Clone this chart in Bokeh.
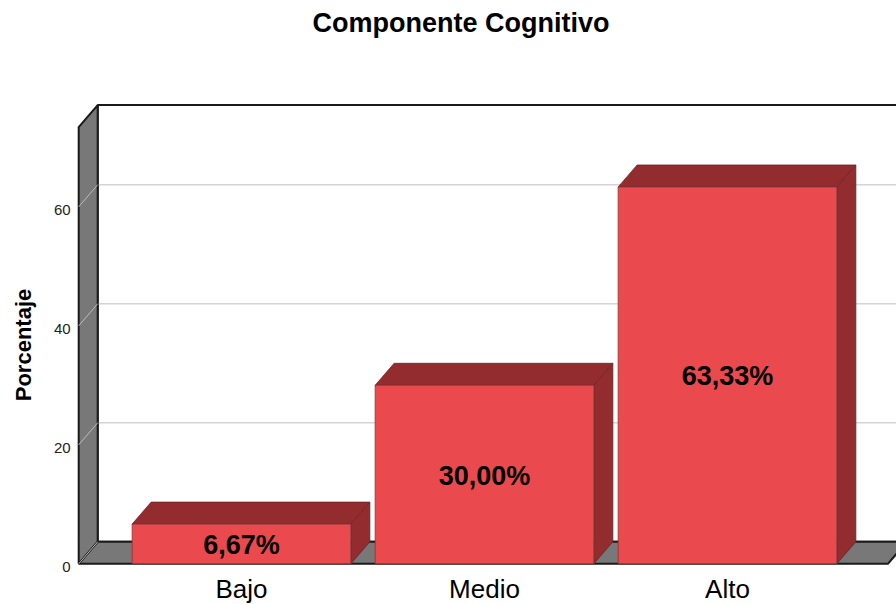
import math
from bokeh.plotting import figure
from bokeh.models import Range1d, ColumnDataSource
from bokeh.core.properties import value
from bokeh.embed import file_html
from bokeh.resources import INLINE

# ---- data ----
title_text = "Componente Cognitivo"
y_label = "Porcentaje"
categories = ["Bajo", "Medio", "Alto"]
percentages = [6.67, 30.00, 63.33]
y_ticks = [0, 20, 40, 60]

# ---- layout constants (pixels inside the figure) ----
W, H = 896, 604
X0_PX, STEP_PX = 241.0, 243.0      # x pixel of first category, pixels per category
Y0_PX, UNIT_PX = 563.3, 5.95       # y pixel (from top) of value 0, pixels per unit
DEPTH_X_PX, DEPTH_Y_PX = 19.0, 22.0

x_start = (0 - X0_PX) / STEP_PX
x_end = (W - X0_PX) / STEP_PX
y_end = Y0_PX / UNIT_PX
y_start = (Y0_PX - H) / UNIT_PX

def px2x(px):
    return (px - X0_PX) / STEP_PX

def px2y(py):
    return (Y0_PX - py) / UNIT_PX

DX = DEPTH_X_PX / STEP_PX
DY = DEPTH_Y_PX / UNIT_PX
BAR_W = 0.9
XL, XR = -0.67, len(categories) - 1 + 0.66
YTOP = 73.4

RED = "#EA4A4D"
DARK_RED = "#922C2E"
GRAY = "#787878"
EDGE = "#1A1A1A"
FONT = value("Liberation Sans")

p = figure(width=W, height=H, x_range=Range1d(x_start, x_end), y_range=Range1d(y_start, y_end),
           output_backend="svg", toolbar_location=None, min_border=0)
p.axis.visible = False
p.grid.visible = False
p.outline_line_color = None
p.background_fill_color = "white"
p.border_fill_color = "white"

# back wall
p.patch([XL + DX, XR + DX, XR + DX, XL + DX], [DY, DY, YTOP + DY, YTOP + DY],
        fill_color="white", line_color=EDGE, line_width=2)
# grid lines on back wall
for t in y_ticks[1:]:
    p.line([XL + DX, XR + DX], [t + DY, t + DY], line_color="#D4D4D4", line_width=1.5)

# left wall
p.patch([XL, XL, XL + DX, XL + DX], [0, YTOP, YTOP + DY, DY],
        fill_color=GRAY, line_color=EDGE, line_width=2)
# floor
p.patch([XL, XR, XR + DX, XL + DX], [0, 0, DY, DY],
        fill_color=GRAY, line_color=EDGE, line_width=2)
# grid line continuations on the left wall
for t in y_ticks:
    p.line([XL, XL + DX], [t, t + DY], line_color="#BDBDBD", line_width=1)

# bars
for i, v in enumerate(percentages):
    l, r = i - BAR_W / 2, i + BAR_W / 2
    p.patch([l, r, r + DX, l + DX], [v, v, v + DY, v + DY],
            fill_color=DARK_RED, line_color="#6E2224", line_width=0.8)
    p.patch([r, r + DX, r + DX, r], [0, DY, v + DY, v],
            fill_color=DARK_RED, line_color="#6E2224", line_width=0.8)
    p.patch([l, r, r, l], [0, 0, v, v],
            fill_color=RED, line_color="#7A3A3A", line_width=0.8)

# value labels in the middle of the bars
lab_src = ColumnDataSource(dict(
    x=list(range(len(categories))),
    y=[v / 2 for v in percentages],
    t=[f"{v:.2f}%".replace(".", ",") for v in percentages],
))
p.text(x="x", y="y", text="t", source=lab_src, text_font=FONT, text_font_size="27px",
       text_font_style="bold", text_align="center", text_baseline="middle",
       y_offset=1, text_color="black")

# category labels
cat_src = ColumnDataSource(dict(x=list(range(len(categories))), y=[0] * len(categories), t=categories))
p.text(x="x", y="y", text="t", source=cat_src, text_font=FONT, text_font_size="26px",
       text_align="center", text_baseline="middle", y_offset=25, text_color="black")

# y tick labels
tick_src = ColumnDataSource(dict(x=[XL] * len(y_ticks), y=y_ticks, t=[str(t) for t in y_ticks]))
p.text(x="x", y="y", text="t", source=tick_src, text_font=FONT, text_font_size="15px",
       text_align="right", text_baseline="middle", x_offset=-8, y_offset=3, text_color="#222222")

# y axis title
p.text(x=[px2x(23)], y=[px2y(344.5)], text=[y_label], angle=math.pi / 2, text_font=FONT,
       text_font_size="22px", text_font_style="bold", text_align="center",
       text_baseline="middle", text_color="black")

# chart title
p.text(x=[px2x(460.5)], y=[px2y(22)], text=[title_text], text_font=FONT,
       text_font_size="27px", text_font_style="bold", text_align="center",
       text_baseline="middle", text_color="black")

open("out.html", "w").write(file_html(p, INLINE))
